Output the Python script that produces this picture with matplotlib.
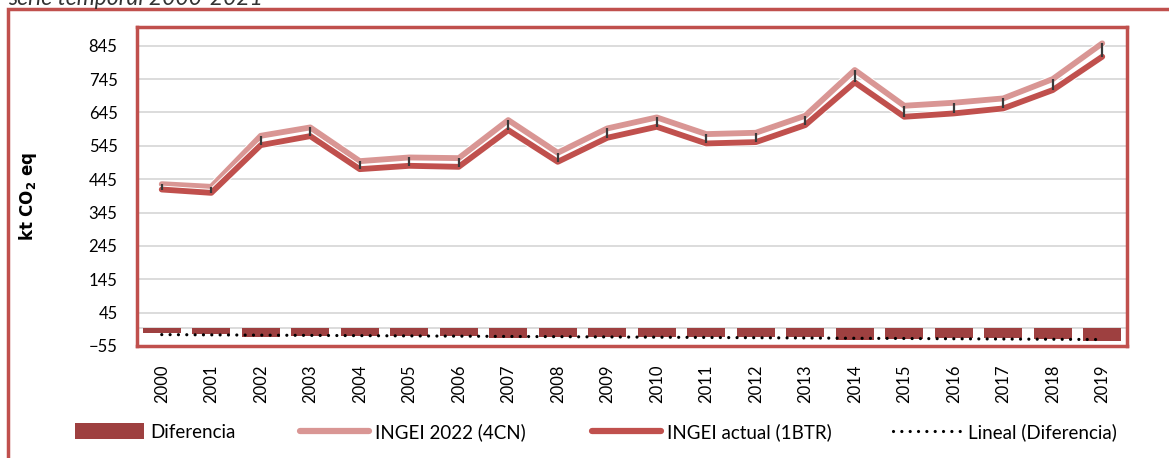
import matplotlib
matplotlib.use("Agg")
import matplotlib.pyplot as plt
import matplotlib.patheffects as pe
from matplotlib.patches import Rectangle, Patch
from matplotlib.lines import Line2D
import numpy as np

plt.rcParams.update({
    "font.family": ["Lato", "DejaVu Sans"],
    "font.size": 12,
})

years = [str(y) for y in range(2000, 2020)]
ingei_4cn = [430, 422, 575, 600, 499, 510, 508, 622, 524, 597,
             630, 580, 584, 635, 772, 665, 674, 687, 745, 852]
ingei_1btr = [414, 404, 547, 574, 475, 485, 482, 592, 497, 569,
              602, 552, 556, 607, 735, 632, 642, 657, 712, 812]
diferencia = [-16, -18, -28, -26, -24, -25, -26, -30, -27, -28,
              -28, -28, -28, -28, -37, -33, -32, -30, -33, -40]
yticks = [-55, 45, 145, 245, 345, 445, 545, 645, 745, 845]

C_BAR = "#9E4040"
C_LIGHT = "#D99694"
C_DARK = "#C0504D"
C_FRAME = "#C0504D"
DOTS = (0, (0.01, 2.6))

W, H = 1169, 458
fig = plt.figure(figsize=(W / 100, H / 100), dpi=100)
ax = fig.add_axes([137 / W, 1 - 346 / H, (1127 - 137) / W, (346 - 27) / H])

x = np.arange(len(years))

ax.set_axisbelow(True)
ax.grid(axis="y", color="#D9D9D9", lw=1.3)
ax.axhline(0, color="#D9D9D9", lw=1.3, zorder=1)

ax.bar(x, diferencia, width=0.77, color=C_BAR, zorder=2)

# linear trend of the difference series
coef = np.polyfit(x, diferencia, 1)
ax.plot(x, np.polyval(coef, x), color="black", lw=2.3, ls=DOTS,
        dash_capstyle="round", zorder=3)

outline = [pe.Stroke(linewidth=5.6, foreground="white"), pe.Normal()]
ax.plot(x, ingei_4cn, color=C_LIGHT, lw=4.2, solid_capstyle="round",
        path_effects=outline, zorder=4)
ax.plot(x, ingei_1btr, color=C_DARK, lw=4.2, solid_capstyle="round",
        path_effects=outline, zorder=5)
ax.vlines(x, ingei_1btr, ingei_4cn, color="#3A3A3A", lw=1.6, zorder=6)

ax.set_xlim(-0.5, len(years) - 0.5)
ax.set_ylim(-55, 901)
ax.set_yticks(yticks)
ax.set_xticks(x)
ax.set_xticklabels(years, rotation=90)
ax.tick_params(axis="both", length=0, labelsize=12, colors="black")
ax.tick_params(axis="y", pad=14)
ax.tick_params(axis="x", pad=13)
for s in ax.spines.values():
    s.set_color(C_FRAME)
    s.set_linewidth(2.5)

fig.text(28 / W, 1 - 196 / H, r"kt CO$_\mathbf{2}$ eq", rotation=90, ha="center",
         va="center", fontsize=12, fontweight="bold", family="DejaVu Sans")

# outer frame and clipped caption
fig.patches.append(Rectangle((8 / W, -0.1), 1.2, 1 - 9 / H + 0.1,
                             transform=fig.transFigure, fill=False,
                             edgecolor=C_FRAME, lw=2.5))
fig.text(8 / W, 1 - 5 / H, "serie temporal 2000-2021", fontsize=16.5,
         style="italic", color="#333333", ha="left", va="baseline")

# legend entries placed one by one, like the spreadsheet layout
entries = [
    (Patch(facecolor=C_BAR), "Diferencia", 75),
    (Line2D([], [], color=C_LIGHT, lw=4.5, solid_capstyle="round"), "INGEI 2022 (4CN)", 300),
    (Line2D([], [], color=C_DARK, lw=4.5, solid_capstyle="round"), "INGEI actual (1BTR)", 592),
    (Line2D([], [], color="black", lw=2.3, ls=DOTS, dash_capstyle="round"),
     "Lineal (Diferencia)", 893),
]
for handle, label, px in entries:
    fig.legend([handle], [label], loc="center left", frameon=False,
               bbox_to_anchor=(px / W, 1 - 432 / H), borderpad=0, borderaxespad=0,
               handlelength=3.7, handleheight=0.9, handletextpad=0.3,
               fontsize=13.5)

fig.savefig("out.png", dpi=100, facecolor="white")
